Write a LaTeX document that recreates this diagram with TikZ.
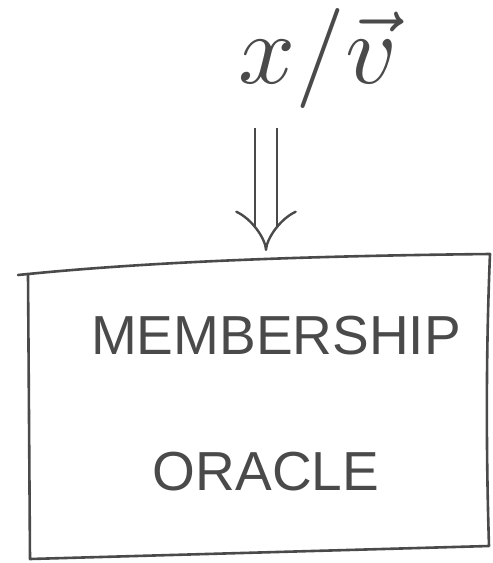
\documentclass[tikz,border=0pt]{standalone}
\usepackage{fontspec}
\usepackage{graphicx}
\setmainfont{Liberation Sans}
\usetikzlibrary{arrows.meta}
\definecolor{ink}{HTML}{4A4A4A}
\tikzset{
  pen/.style={draw=ink, line width=2.6pt, line cap=round, line join=round},
  word/.style={text=ink, inner sep=0pt, font=\fontsize{55}{55}\selectfont},
  implies/.style={ink, line width=2.4pt, double distance=20pt, -{Implies[]}}
}
\begin{document}
\begin{tikzpicture}[x=1pt, y=-1pt]
\useasboundingbox (0,0) rectangle (493,563);
% input label
\node[text=ink, inner sep=0pt] (input) at (318,58) {\scalebox{10}{$x/\vec{v}$}};
% box corners
\coordinate (tl) at (28,274);
\coordinate (tr) at (490,254);
\coordinate (br) at (489,546);
\coordinate (bl) at (30,559);
\coordinate (entry) at (266,251);
\coordinate (src) at (266,128);
\draw[pen] (tl) .. controls (150,262) and (300,256) .. (tr)
  .. controls (486,350) and (486,450) .. (br) -- (bl) -- cycle;
\draw[pen] (18,275) -- (tl);
% oracle text
\node[word] (l1) at (276,336) {MEMBERSHIP};
\node[word] (l2) at (266,472) {ORACLE};
% arrow into the box
\draw[implies] (src) -- (entry);
\end{tikzpicture}
\end{document}
